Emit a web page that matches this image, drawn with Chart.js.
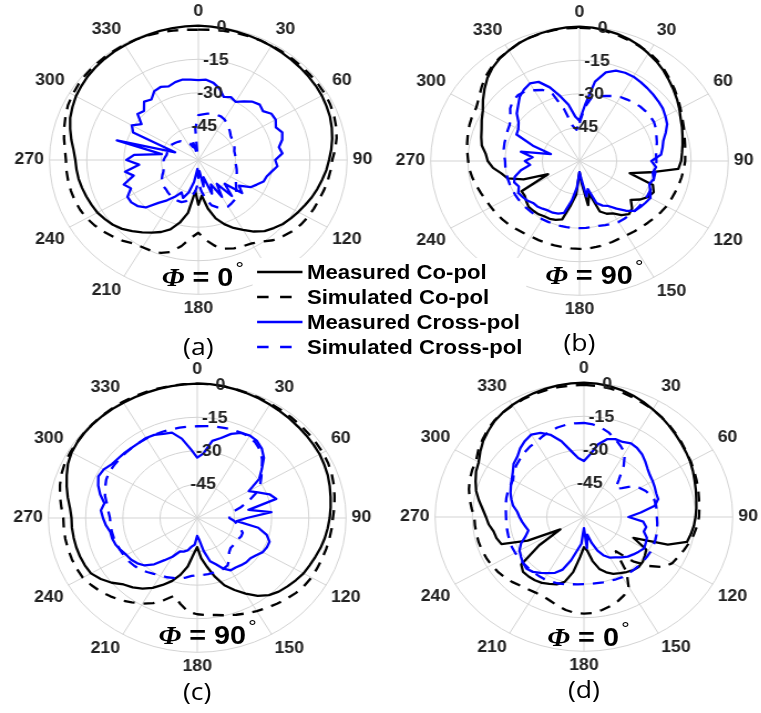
<!DOCTYPE html>
<html>
<head>
<meta charset="utf-8">
<script src="https://cdn.jsdelivr.net/npm/chart.js@4.4.1/dist/chart.umd.min.js"></script>
<style>
    html, body { margin: 0; padding: 0; background: #fff; overflow: hidden; width: 761px; height: 713px; }
    #fig { position: absolute; left: 0; top: 0; width: 687px; height: 713px; transform: scaleX(1.108); transform-origin: 0 0; font-family: "Liberation Sans", Arial, sans-serif; }
    .plot { position: absolute; width: 332px; height: 332px; }
    .phi { position: absolute; font-size: 26px; font-weight: bold; line-height: 28px; white-space: nowrap; color: #000; }
    .phi .sym { font-family: "Liberation Serif", serif; font-style: italic; }
    .phi .deg { font-weight: normal; font-size: 19px; position: relative; top: -11px; margin-left: 2px; }
    .cap { position: absolute; width: 100px; text-align: center; font-family: "Open Sans", sans-serif; font-size: 24px; line-height: 30px; color: #000; }
    #legend { position: absolute; left: 228px; top: 258px; width: 247px; height: 104px; background: #fff; }
    #legend .row { position: absolute; left: 0; height: 24px; }
    #legend svg { position: absolute; left: 4px; top: 0; }
    #legend span { position: absolute; left: 49px; top: 0; font-size: 20px; font-weight: bold; line-height: 24px; white-space: nowrap; color: #000; }
</style>
</head>
<body>
<div id="fig">
    <div class="plot" style="left:9px; top:-6px"><canvas id="chartA"></canvas></div>
    <div class="plot" style="left:353px; top:-5px"><canvas id="chartB"></canvas></div>
    <div class="plot" style="left:8px; top:352px"><canvas id="chartC"></canvas></div>
    <div class="plot" style="left:357px; top:351px"><canvas id="chartD"></canvas></div>

    <div class="phi" style="left:146px; top:263px"><span class="sym">Φ</span> = 0<span class="deg">°</span></div>
    <div class="phi" style="left:492px; top:261px"><span class="sym">Φ</span> = 90<span class="deg">°</span></div>
    <div class="phi" style="left:143px; top:621px"><span class="sym">Φ</span> = 90<span class="deg">°</span></div>
    <div class="phi" style="left:494px; top:623px"><span class="sym">Φ</span> = 0<span class="deg">°</span></div>

    <div class="cap" style="left:129px; top:331px">(a)</div>
    <div class="cap" style="left:473px; top:327px">(b)</div>
    <div class="cap" style="left:128px; top:676px">(c)</div>
    <div class="cap" style="left:477px; top:674px">(d)</div>

    <div id="legend"></div>
</div>
<script>
// angles in degrees, clockwise from the top
const angles = [0, 5, 10, 15, 20, 25, 30, 35, 40, 45, 50, 55,
    60, 65, 70, 75, 80, 85, 90, 95, 100, 105, 110, 115,
    120, 125, 130, 135, 140, 145, 150, 155, 160, 165, 170, 175,
    180, 185, 190, 195, 200, 205, 210, 215, 220, 225, 230, 235,
    240, 245, 250, 255, 260, 265, 270, 275, 280, 285, 290, 295,
    300, 305, 310, 315, 320, 325, 330, 335, 340, 345, 350, 355];

const rTicks = [0, -15, -30, -45];
const seriesNames = ["Measured Co-pol", "Simulated Co-pol", "Measured Cross-pol", "Simulated Cross-pol"];

// (a) phi = 0
const coMeasA = [0, -0.2, -0.4, -0.6, -0.8, -1, -1.2, -1.4, -1.6, -1.8, -2, -2.2,
    -2.5, -3, -3.5, -4.3, -5.2, -6.2, -7.3, -8.2, -9.3, -10.3, -11.3, -12.5,
    -13.5, -14.5, -15.5, -17, -18.5, -21, -24, -26.5, -29.5, -33, -38, -44,
    -40, -46, -36, -31, -27, -24.5, -22.5, -20.5, -18.5, -16.5, -15, -14,
    -13, -12.5, -12, -11.5, -11, -10.7, -10.4, -9.5, -8, -6.5, -5, -4,
    -3, -2.4, -1.8, -1.4, -1.1, -0.9, -0.8, -0.6, -0.5, -0.3, -0.2, -0.1];
const coSimA = [-1.8, -1.6, -1.4, -1.2, -1.1, -1, -1, -1, -1, -1, -1, -1,
    -1, -1.3, -1.8, -2.5, -3.4, -4.6, -6, -6.5, -7, -7.6, -8.2, -8.6,
    -9, -9.6, -10.5, -11.8, -13.2, -15.5, -17, -17.5, -18, -19, -21, -24,
    -27.5, -25, -21, -17.5, -15.8, -15.2, -15, -14.5, -12.8, -11.5, -10.2, -9,
    -8, -7.4, -7, -6.8, -6.7, -6.6, -6.6, -6, -5, -4, -3, -2,
    -1.5, -1, -0.7, -0.5, -0.5, -0.5, -0.5, -0.6, -0.8, -1, -1.3, -1.6];
const xMeasA = [-24.3, -24, -25, -27, -30, -29, -30, -28, -26, -25, -26, -24,
    -24, -25.5, -24, -25, -27, -26, -29, -28, -30, -31.5, -32, -34,
    -35.7, -40, -37, -45, -39, -47, -41, -48, -44, -52, -48, -55,
    -52, -56, -50, -45, -42, -44, -41, -38, -35, -30, -28, -27,
    -27, -30, -28, -33, -30, -36, -31, -34, -45, -26, -50, -31,
    -29, -32, -28, -29, -26, -27, -24.5, -24, -25, -24, -23.5, -24];
const xSimA = [-40, -39.5, -39, -38.5, -38.5, -38.5, -39, -40, -41, -42, -43, -43.5,
    -43.5, -44, -44.5, -45, -45, -45, -45, -45, -44.5, -44, -43.5, -43,
    -42.5, -41.5, -40, -38.5, -37, -36.5, -36, -36.5, -37.5, -39, -42, -46,
    -50, -46, -43, -41, -40, -40, -40, -40.5, -41, -41.5, -41.7, -42.5,
    -43, -44, -45, -45.5, -46, -46, -46, -46.5, -47, -47, -47, -47,
    -47, -47.5, -48, -48.5, -49, -50, -51, -52, -54, -50, -58, -46];

// (b) phi = 90
const coMeasB = [0, -0.2, -0.6, -1.2, -2, -3, -4.5, -5.8, -7.3, -9, -10.5, -12,
    -13.5, -15, -16, -17, -17.8, -18.5, -19, -20, -31, -39, -28.5, -27,
    -28, -30, -33, -30, -29, -30.5, -33, -34, -36, -45, -40, -50,
    -55, -45, -40, -33, -32, -31.5, -31.5, -31, -31, -31, -32, -33,
    -33, -46, -36, -30, -28, -25, -23, -22, -20, -19, -18, -16.5,
    -15, -12.5, -10, -7.5, -5.5, -4, -3, -2, -1.3, -0.8, -0.4, -0.1];
const coSimB = [-0.5, -0.6, -1, -1.7, -2.5, -3.3, -4, -5.2, -6.8, -8.5, -10, -11.5,
    -13, -14.3, -15.3, -16.2, -16.8, -17.2, -17.4, -17.8, -18.2, -18.6, -19, -19.3,
    -19.5, -20, -20.5, -21, -21.3, -21.6, -21.8, -21.8, -21.5, -21.2, -21, -20.8,
    -20.7, -20.8, -21, -21, -21, -21, -21, -20.7, -20.3, -19.8, -19.4, -19,
    -18.8, -18.4, -17.8, -17, -16.2, -15.5, -15.1, -14.6, -14, -13.4, -12.8, -12.3,
    -12, -10.5, -8.5, -6.5, -5, -3.8, -3, -2, -1.4, -0.9, -0.6, -0.5];
const xMeasB = [-42, -35, -24, -19, -17, -16.5, -16.5, -17, -17.5, -18, -18.5, -19,
    -20, -21, -23, -25, -26, -27, -31, -29, -30, -29, -30, -28.5,
    -27, -27.5, -28, -28.5, -31, -34, -36.8, -38, -40, -47, -44, -52,
    -55, -48, -42, -36, -35, -34.5, -34.5, -34, -33.5, -33.5, -32.5, -32,
    -31.5, -33, -32, -33, -36, -40, -38, -41, -36, -48, -40, -32,
    -31.5, -30, -27, -25, -22.5, -21, -20, -21, -25, -30, -34.5, -40];
const xSimB = [-43, -36, -31, -30, -29, -28, -27, -26.5, -26, -25.5, -25.3, -25.2,
    -25.3, -26, -27, -27.7, -28.5, -29, -29, -29, -29, -29, -28.8, -28.6,
    -28.5, -28.5, -28.5, -28.5, -28.5, -28.5, -28.5, -29, -29.5, -30, -30, -30,
    -30, -30, -30, -30, -30, -30, -30, -30, -30, -30, -30, -30,
    -30, -30, -30, -30, -30, -30, -30, -29.5, -29, -28.7, -28.5, -28,
    -27.5, -26, -23.5, -22, -21.5, -22, -23.5, -25, -28, -36, -44, -46];

// (c) phi = 90
const coMeasC = [0, 0, -0.2, -0.5, -0.8, -1.1, -1.5, -1.8, -2.1, -2.4, -2.6, -2.8,
    -3, -3.5, -4, -4.7, -5.4, -6, -6.6, -7.2, -7.8, -8.5, -9.3, -10,
    -10.5, -11.5, -12.5, -13.5, -15, -17.5, -21, -24.5, -28, -33, -38, -42,
    -47, -44, -38, -33.7, -30, -27, -24, -21.5, -19.5, -18, -15, -12.5,
    -10.5, -10, -9.7, -9.5, -9.4, -9.3, -9.3, -8.5, -7, -5.5, -4, -2.5,
    -1.5, -1, -0.7, -0.5, -0.5, -0.5, -0.5, -0.5, -0.4, -0.3, -0.2, -0.1];
const coSimC = [0, 0, -0.2, -0.4, -0.6, -0.8, -1, -1.1, -1.2, -1.3, -1.4, -1.5,
    -1.5, -1.8, -2.3, -3, -3.8, -4.5, -5.3, -5.6, -5.9, -6.2, -6.5, -6.7,
    -6.8, -7.3, -8, -9, -10, -11, -12, -13, -14, -15, -16, -16.5,
    -17, -18, -21, -24, -21, -18, -15.8, -14, -12, -10.5, -9, -7.8,
    -6.7, -6.4, -6.2, -6.1, -6, -6, -6, -5, -3.8, -2.7, -1.8, -1.2,
    -1, -0.8, -0.6, -0.5, -0.3, -0.2, 0, 0, 0, 0, 0, 0];
const xMeasC = [-33, -31, -25, -23, -20, -18, -17.5, -18, -19.5, -22, -26, -29.5,
    -36, -33, -29, -27, -39, -30, -40, -44, -35, -31, -29, -29,
    -29.5, -31, -32, -32, -32.5, -33, -33, -35, -38, -40, -45, -50,
    -52, -48, -47, -45, -44, -43.5, -40, -37, -33, -30, -28.5, -27.5,
    -27, -26, -25, -24.5, -24.4, -23, -22, -21, -22, -19.5, -17.5, -16,
    -16.5, -18, -18.5, -18.7, -19, -19, -18.7, -19, -20, -20.5, -24, -29];
const xSimC = [-19, -18.8, -18.5, -18.3, -18, -18, -18, -19, -20.5, -23, -26, -28.5,
    -30.7, -34, -38, -42, -46, -47, -47, -45, -43.5, -42, -40.5, -40.5,
    -41, -41, -41, -41, -40, -37.5, -35.5, -35, -34.8, -34.7, -34.5, -34.5,
    -34.5, -34, -33, -32, -31.5, -30.8, -30.5, -29.5, -28.5, -27.5, -26.8, -26.3,
    -26, -25.8, -25.5, -25.2, -25, -24.9, -24.8, -24, -23, -21.5, -20.5, -19.5,
    -19, -19, -19, -19, -19, -19, -19, -19, -19, -19, -19, -19];

// (d) phi = 0
const coMeasD = [0, -0.2, -0.6, -1.3, -2.2, -3.3, -4.5, -5.5, -6.7, -7.8, -8.8, -9.7,
    -10.5, -11.5, -12.5, -13.3, -14, -14.5, -15, -15.5, -16.2, -17, -24, -38,
    -31, -30, -29, -28.6, -29, -30, -31, -32, -33.7, -36, -40, -45,
    -46.5, -42, -35, -30, -28, -27, -26, -25.5, -25.3, -25.3, -27, -38,
    -49, -35, -24.6, -23.5, -23, -21.5, -20.5, -19, -17, -15, -13.5, -12,
    -11, -9, -7, -5.5, -4, -3, -2.2, -1.6, -1.1, -0.6, -0.3, -0.1];
const coSimD = [-1, -1.2, -1.6, -2.2, -3, -3.8, -4.5, -5.5, -6.5, -7.5, -8.5, -9.5,
    -10.3, -11, -11.7, -12.3, -12.9, -13.3, -13.6, -14.2, -15, -16, -17, -18,
    -18.8, -21, -26, -32, -40, -30, -24, -21.5, -20, -18.8, -17.8, -17,
    -16.8, -17, -17.8, -19, -20.2, -21, -21, -20.6, -20, -19, -18.2, -17.5,
    -17, -16.6, -16.3, -16.1, -16, -15.9, -15.8, -14.5, -13.2, -12, -11, -10.3,
    -9.8, -8, -6.5, -5, -3.8, -3, -2.5, -2, -1.6, -1.3, -1.1, -1];
const xMeasD = [-35, -32, -27, -24, -23, -23, -22, -22.5, -23.5, -25, -26.5, -27.5,
    -28, -28.5, -29, -29, -31, -37, -42, -36, -34.5, -35, -33, -32.5,
    -32, -33, -34, -35, -36.5, -38, -39, -41, -44, -48, -52, -46,
    -55, -48, -45, -40, -35, -32.5, -31, -29.5, -28, -27.3, -28, -29,
    -30, -32, -35, -36.8, -36, -35, -34, -33, -31, -29.7, -28.5, -27.5,
    -26.4, -25, -23, -22, -20, -18.5, -17.5, -18.5, -21, -25, -30, -33.5];
const xSimD = [-18, -18.5, -19.5, -21, -23, -25, -27, -32, -38, -42, -40, -36,
    -34, -32.5, -31.5, -30.6, -30.5, -30.5, -30.6, -30.3, -30, -29.7, -29.4, -29.2,
    -29, -29, -29, -29, -29, -29, -29, -29.3, -29.6, -29.8, -30, -30,
    -30, -29.8, -29.5, -29, -28.5, -28.2, -28, -28, -28, -28, -28, -28,
    -28, -28, -28.2, -28.4, -28.5, -28.6, -28.6, -28.4, -28, -27.6, -27.3, -27.1,
    -27, -25.5, -24.3, -23.5, -22.5, -21.8, -21.4, -20.3, -19.4, -18.6, -18.2, -18];

const gridColor = "#d3d3d3";
const textColor = "#222";
const blue = "#0000ff";
const dash = [10, 8];
const labelFont = { family: "'Liberation Sans', Arial, sans-serif", size: 16, weight: "bold" };

// r tick labels sit just right of the 0 degree spoke
const rTickLabels = {
    id: "rTickLabels",
    afterDatasetsDraw(chart) {
        const scale = chart.scales.r;
        const ctx = chart.ctx;
        const a = 9 * Math.PI / 180;
        ctx.save();
        ctx.font = "bold 16px 'Liberation Sans', Arial, sans-serif";
        ctx.fillStyle = textColor;
        ctx.textAlign = "center";
        ctx.textBaseline = "middle";
        rTicks.forEach(v => {
            const d = scale.getDistanceFromCenterForValue(v);
            ctx.fillText(String(v), scale.xCenter + d * Math.sin(a), scale.yCenter - d * Math.cos(a));
        });
        ctx.restore();
    }
};

function drawPolar(id, coMeas, coSim, xMeas, xSim) {
    new Chart(document.getElementById(id), {
        type: "radar",
        data: {
            labels: angles,
            datasets: [
                { label: seriesNames[3], data: xSim, borderColor: blue, borderDash: dash },
                { label: seriesNames[2], data: xMeas, borderColor: blue },
                { label: seriesNames[1], data: coSim, borderColor: "#000", borderDash: dash },
                { label: seriesNames[0], data: coMeas, borderColor: "#000" }
            ]
        },
        options: {
            responsive: true,
            maintainAspectRatio: false,
            animation: false,
            layout: { padding: 0 },
            elements: {
                line: { borderWidth: 2.3, fill: false, tension: 0, borderJoinStyle: "round" },
                point: { radius: 0, hitRadius: 0, hoverRadius: 0 }
            },
            plugins: { legend: { display: false }, tooltip: { enabled: false } },
            scales: {
                r: {
                    min: -60,
                    max: 0,
                    ticks: { stepSize: 15, display: false },
                    grid: { circular: true, color: gridColor, lineWidth: 1 },
                    angleLines: {
                        color: gridColor,
                        lineWidth: ctx => ctx.index % 6 === 0 ? 1 : 0
                    },
                    pointLabels: {
                        callback: (label, i) => i % 6 === 0 ? String(label) : "",
                        font: labelFont,
                        color: textColor,
                        padding: 5
                    }
                }
            }
        },
        plugins: [rTickLabels]
    });
}

drawPolar("chartA", coMeasA, coSimA, xMeasA, xSimA);
drawPolar("chartB", coMeasB, coSimB, xMeasB, xSimB);
drawPolar("chartC", coMeasC, coSimC, xMeasC, xSimC);
drawPolar("chartD", coMeasD, coSimD, xMeasD, xSimD);

// shared legend between the four plots
const legendStyles = [
    { color: "#000", dashed: false },
    { color: "#000", dashed: true },
    { color: blue, dashed: false },
    { color: blue, dashed: true }
];
const legend = document.getElementById("legend");
seriesNames.forEach((name, i) => {
    const row = document.createElement("div");
    row.className = "row";
    row.style.top = (2 + i * 25) + "px";
    const st = legendStyles[i];
    row.innerHTML =
        '<svg width="42" height="24"><line x1="0" y1="12" x2="41" y2="12" stroke="' + st.color +
        '" stroke-width="2.3"' + (st.dashed ? ' stroke-dasharray="10.4 10.4"' : "") + "/></svg>" +
        "<span>" + name + "</span>";
    legend.appendChild(row);
});
</script>
</body>
</html>
